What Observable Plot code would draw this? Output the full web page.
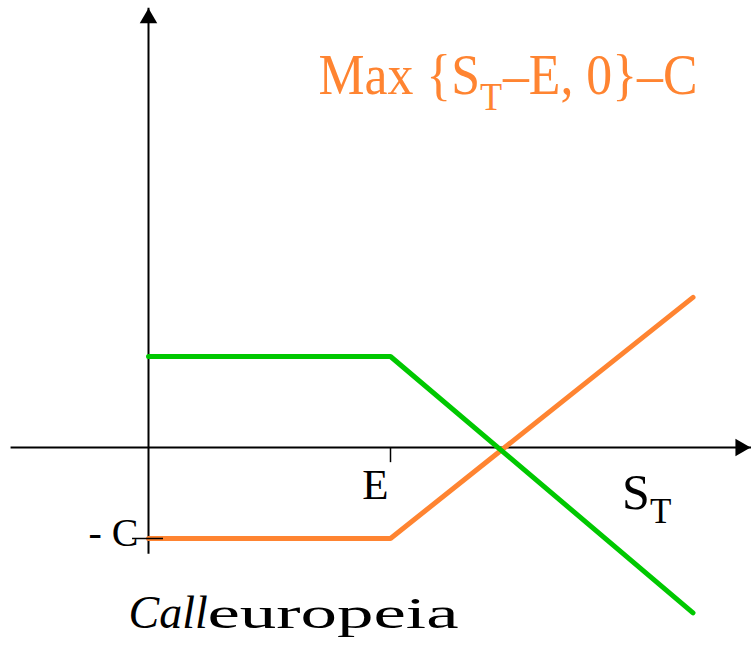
<!DOCTYPE html>
<html><head><meta charset="utf-8">
<script src="https://cdn.jsdelivr.net/npm/d3@7"></script>
<script src="https://cdn.jsdelivr.net/npm/@observablehq/plot@0.6"></script>
<style>body{margin:0;background:#fff}</style>
</head><body><div id="chart"></div>
<script>
// ---- data ----
const strikeE = 10;          // E
const premiumC = 3;          // C
const stValues = [0, 10, 22.5];        // S_T breakpoints: 0, E, end
const longCall = [-3, -3, 4.95];       // orange: Max{S_T-E,0}-C
const shortCall = [3, 3, -5.45];       // green: seller's payoff
const xAxisExtent = [-5.7, 24.9];
const yAxisExtent = [-3.5, 14.5];
const titleLabel = ["Max {S_T–E, 0}–C"];
const axisLabel = ["S_T"];
const strikeLabel = ["E"];
const premiumLabel = ["- C"];
const captionItalic = ["Call"];
const captionRoman = ["europeia"];

const orange = "#ff8431";
const green = "#00c800";
const serif = "'Liberation Serif', 'DejaVu Serif', serif";

const toRows = (vals) => stValues.map((s, i) => ({s, v: vals[i]}));

const chart = Plot.plot({
  width: 751,
  height: 653,
  marginTop: 0, marginRight: 0, marginBottom: 0, marginLeft: 0,
  x: {domain: [0, strikeE], range: [148, 390], axis: null},
  y: {domain: [0, -premiumC], range: [447, 538], axis: null},
  style: {background: "white"},
  marks: [
    // axes
    Plot.link([0], {x1: xAxisExtent[0], x2: xAxisExtent[1], y1: 0, y2: 0, stroke: "black", strokeWidth: 2}),
    Plot.link([0], {x1: 0, x2: 0, y1: yAxisExtent[0], y2: yAxisExtent[1], stroke: "black", strokeWidth: 2}),
    Plot.dot([0], {x: 0, y: yAxisExtent[1], symbol: "triangle", r: 6.5, fill: "black", dy: 10.6}),
    Plot.dot([0], {x: xAxisExtent[1], y: 0, symbol: "triangle", rotate: 90, r: 6.5, fill: "black", dx: -10.6}),
    // payoff lines
    Plot.line(toRows(longCall), {x: "s", y: "v", stroke: orange, strokeWidth: 5, strokeLinejoin: "miter"}),
    Plot.line(toRows(shortCall), {x: "s", y: "v", stroke: green, strokeWidth: 5, strokeLinejoin: "miter"}),
    // ticks
    Plot.ruleX([strikeE], {y1: 0, y2: -0.5, stroke: "black", strokeWidth: 1.5}),
    Plot.ruleY([-premiumC], {x1: -0.66, x2: 0.62, stroke: "black", strokeWidth: 1.5}),
    // labels
    Plot.text(strikeLabel, {x: strikeE, y: 0, dx: -15, dy: 51, textAnchor: "middle", lineAnchor: "bottom", fontSize: 43, fontFamily: serif, fill: "black"}),
    Plot.text(premiumLabel, {x: 0, y: -premiumC, dx: -10, dy: 7, textAnchor: "end", lineAnchor: "bottom", fontSize: 40, fontFamily: serif, fill: "black"}),
    Plot.text(axisLabel, {x: xAxisExtent[1], y: 0, dx: -129, dy: 61, textAnchor: "start", lineAnchor: "bottom", fontSize: 50, fontFamily: serif, fill: "black", className: "st-label"}),
    Plot.text(titleLabel, {frameAnchor: "top-left", dx: 318, dy: 93, textAnchor: "start", lineAnchor: "bottom", fontSize: 58, fontFamily: serif, fill: orange, className: "title-label"}),
    Plot.text(captionItalic, {frameAnchor: "bottom-left", dx: 128, dy: -26, textAnchor: "start", lineAnchor: "bottom", fontSize: 46, fontStyle: "italic", fontFamily: serif, fill: "black"}),
    Plot.text(captionRoman, {frameAnchor: "bottom-left", dx: 207, dy: -26, textAnchor: "start", lineAnchor: "bottom", fontSize: 44, fontFamily: serif, fill: "black", className: "caption-roman"})
  ]
});

// turn "_T" into a real subscript
d3.select(chart).selectAll("text").each(function () {
  const t = d3.select(this);
  const s = t.text();
  if (!s.includes("_T")) return;
  const fs = parseFloat(t.attr("font-size")) || parseFloat(d3.select(this.parentNode).attr("font-size")) || 40;
  const [a, b] = s.split("_T");
  t.text(null);
  t.append("tspan").text(a);
  t.append("tspan").attr("font-size", fs * 0.7).attr("dy", fs * 0.28).text("T");
  if (b) t.append("tspan").attr("dy", -fs * 0.28).attr("dx", 1).text(b);
});

// match the wider/narrower typeface widths of the reference
d3.select(chart).selectAll(".title-label text").attr("textLength", 379).attr("lengthAdjust", "spacingAndGlyphs");
d3.select(chart).selectAll(".caption-roman text").attr("textLength", 251).attr("lengthAdjust", "spacingAndGlyphs");

document.getElementById("chart").append(chart);
</script>
</body></html>
